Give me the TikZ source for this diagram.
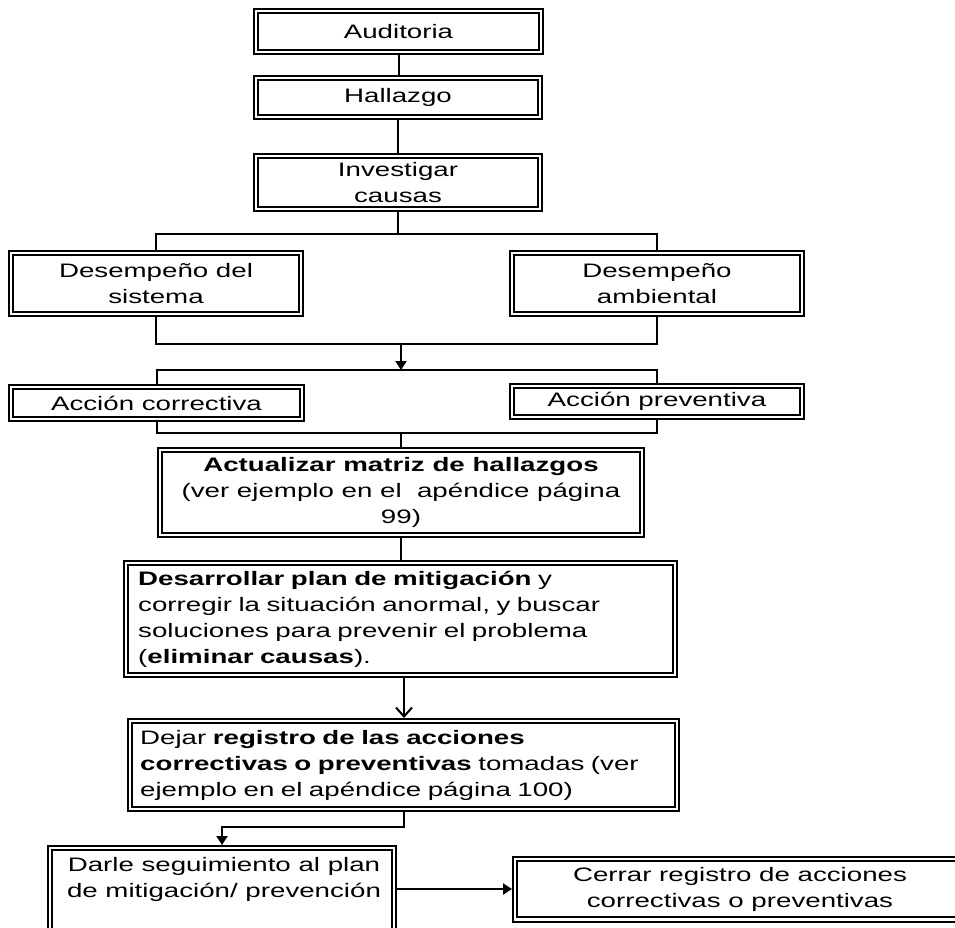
\documentclass[tikz,border=0pt]{standalone}
\usepackage{fontspec}
\setmainfont{Liberation Sans}[FakeStretch=1.42]
\usetikzlibrary{arrows.meta}
\begin{document}
\begin{tikzpicture}[x=1pt,y=-1pt,
  every node/.style={font=\fontsize{19.5}{26}\selectfont},
  dbox/.style={draw, line width=2pt, fill=white, outer sep=5.2pt, inner sep=0pt,
    preaction={draw, line width=10.4pt},
    preaction={draw=white, line width=6.4pt}},
  conn/.style={line width=2pt},
  arrF/.style={conn, -{Triangle[length=9pt,width=11pt]}},
  arrV/.style={conn, -{Straight Barb[length=9pt,width=16pt]}}]
\useasboundingbox (0,0) rectangle (955,928);
\clip (0,0) rectangle (955,928);

\node[dbox, minimum width=280.6pt, minimum height=36.6pt] (aud) at (398.5,31.5) {Auditoria};
\node[dbox, minimum width=279.6pt, minimum height=34.6pt] (hal) at (398,97.5) {Hallazgo};
\node[dbox, align=center, minimum width=279.6pt, minimum height=48.6pt] (inv) at (398,182.5) {Investigar\\causas};
\node[dbox, align=center, minimum width=285.6pt, minimum height=56.6pt] (ds) at (156,283.5) {Desempeño del\\sistema};
\node[dbox, align=center, minimum width=285.6pt, minimum height=56.6pt] (da) at (657,283.5) {Desempeño\\ambiental};
\node[dbox, minimum width=286.6pt, minimum height=27.6pt] (ac) at (156.5,403) {Acción correctiva};
\node[dbox, minimum width=285.6pt, minimum height=26.6pt] (ap) at (657,401.5) {Acción preventiva};
\node[dbox, align=center, minimum width=477.6pt, minimum height=80.6pt] (act) at (401,492.5)
  {\textbf{Actualizar matriz de hallazgos}\\(ver ejemplo en el \ apéndice página\\99)};
\node[dbox, align=left, text width=524.6pt, inner xsep=10pt, minimum height=107.6pt] (des) at (400.5,619)
  {\textbf{Desarrollar plan de mitigación} y\\corregir la situación anormal, y buscar\\soluciones para prevenir el problema\\(\textbf{eliminar causas}).};
\node[dbox, align=left, text width=526.6pt, inner xsep=8pt, minimum height=83.6pt] (dej) at (403.5,765)
  {Dejar \textbf{registro de las acciones}\\\textbf{correctivas o preventivas} tomadas (ver\\ejemplo en el apéndice página 100)};
\node[dbox, minimum width=339.6pt, minimum height=94.6pt] (dar) at (222,897.5) {};
\node[anchor=north, align=center, inner sep=0pt] (dart) at (224,857) {Darle seguimiento al plan\\de mitigación/ prevención};
\node[dbox, align=center, minimum width=445.6pt, minimum height=56.6pt] (cer) at (740,889)
  {Cerrar registro de acciones\\correctivas o preventivas};

\draw[conn] (aud.south) -- (aud.south |- hal.north);
\draw[conn] (hal.south) -- (hal.south |- inv.north);
\coordinate (j1) at (399,234);
\draw[conn] (inv.south) -- (inv.south |- j1);
\draw[conn] (ds.north) |- (j1) -| (da.north);
\coordinate (j2) at (401,344);
\draw[conn] (ds.south) |- (j2) -| (da.south);
\coordinate (j3) at (401,370);
\draw[arrF] (j2) -- (j3);
\draw[conn] (ac.north) |- (j3) -| (ap.north);
\coordinate (j4) at (401,433);
\draw[conn] (ac.south) |- (j4) -| (ap.south);
\draw[conn] (j4) -- (act.north);
\draw[conn] (act.south) -- (act.south |- des.north);
\draw[arrV] ([xshift=3.5pt]des.south) -- ([xshift=3.5pt]des.south |- dej.north);
\draw[arrF] (dej.south) -- ++(0,15) -| (dar.north);
\draw[arrF] (dar.east |- cer.west) -- (cer.west);
\end{tikzpicture}
\end{document}
